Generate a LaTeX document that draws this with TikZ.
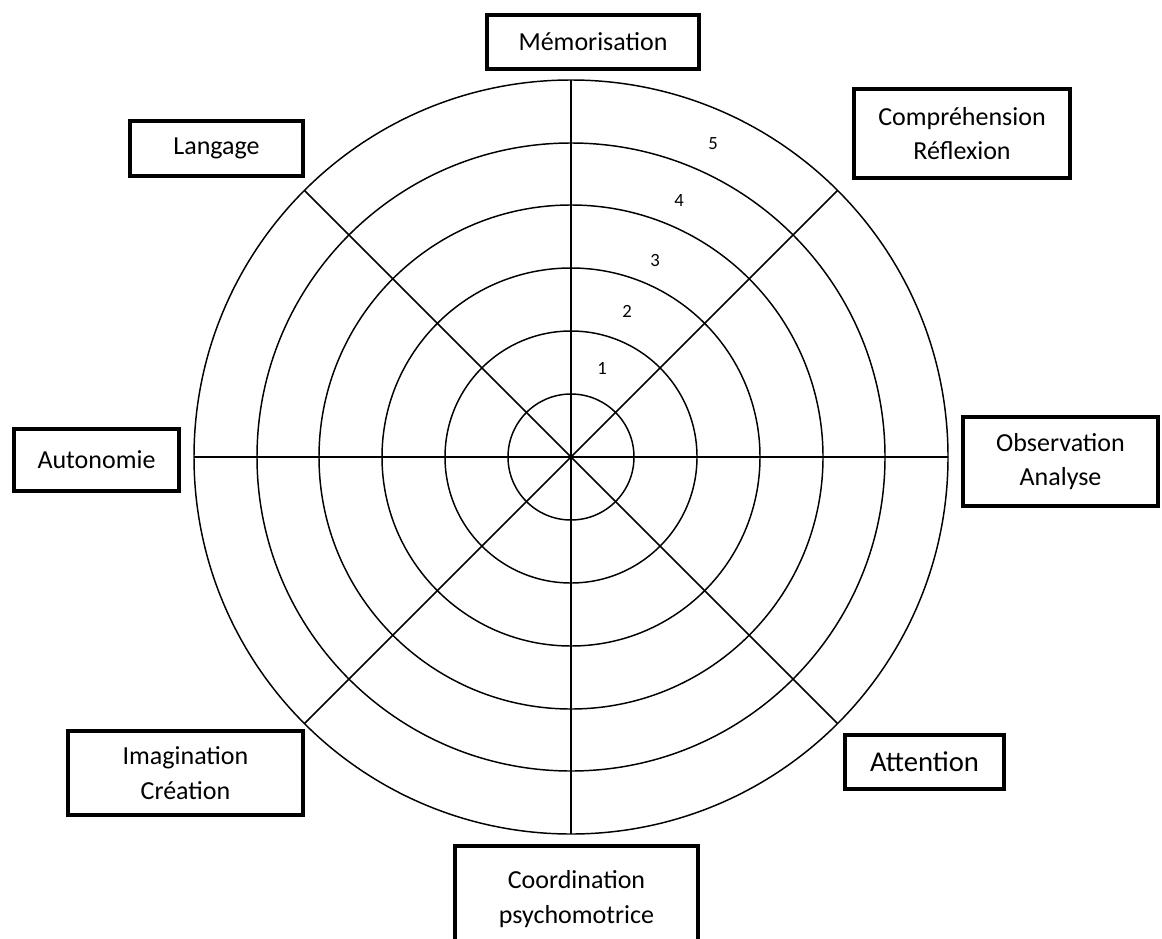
\documentclass[tikz,border=0pt]{standalone}
\usepackage{fontspec}
\setmainfont{Carlito}
\usetikzlibrary{calc}
\begin{document}
\begin{tikzpicture}[x=0.75pt,y=-0.75pt,
  boxlbl/.style={draw=black,line width=3pt,fill=white,inner sep=0pt,align=center,font=\fontsize{19.5}{26}\selectfont},
  grid/.style={line width=1.1pt},
  num/.style={font=\fontsize{14}{16}\selectfont,inner sep=0pt}]
\useasboundingbox (0,0) rectangle (1162,938);
\coordinate (c) at (571,457);
\foreach \r in {63,126,189,252,314,377} \draw[grid] (c) circle[radius=\r];
\foreach \a in {0,45,90,135} {
  \draw[grid] ($(c)+(\a:377)$) -- ($(c)+(\a+180:377)$);
}
\fill (c) circle[radius=2.5];
\node[num] (n1) at (602,368) {1};
\node[num] (n2) at (627,311) {2};
\node[num] (n3) at (655,261) {3};
\node[num] (n4) at (679,201) {4};
\node[num] (n5) at (713,144) {5};
\node[boxlbl,minimum width=159pt,minimum height=40.5pt] (mem) at (593,42) {Mémorisation};
\node[boxlbl,minimum width=162pt,minimum height=67pt] (comp) at (962,133.5) {Compréhension\\Réflexion};
\node[boxlbl,minimum width=146pt,minimum height=67pt] (obs) at (1060.5,461.5) {Observation\\Analyse};
\node[boxlbl,minimum width=182pt,minimum height=80pt] (coord) at (576.5,899) {Coordination\\psychomotrice};
\node[boxlbl,minimum width=176pt,minimum height=63pt] (imag) at (185.5,773) {Imagination\\Création};
\node[boxlbl,minimum width=124pt,minimum height=46.5pt] (auto) at (96.5,460) {Autonomie};
\node[boxlbl,minimum width=119pt,minimum height=40.5pt,font=\fontsize{21.5}{26}\selectfont] (att) at (924.5,762) {Attention};
\node[boxlbl,minimum width=130pt,minimum height=41pt] (lang) at (216.5,148.5) {Langage};
\end{tikzpicture}
\end{document}
